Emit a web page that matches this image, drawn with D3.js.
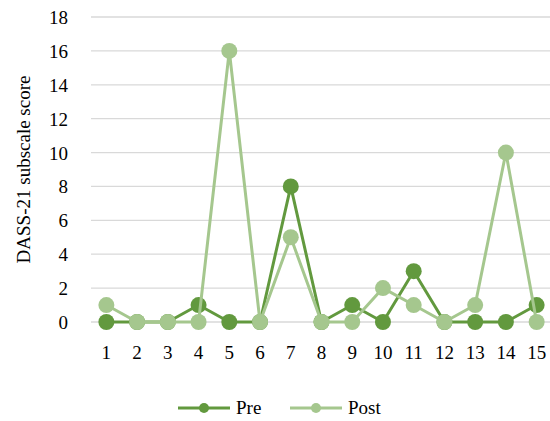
<!DOCTYPE html>
<html><head><meta charset="utf-8">
<script src="https://cdn.jsdelivr.net/npm/d3@7"></script>
<style>body{margin:0;background:#fff}svg{display:block}
html body svg#c text, html body svg#c g text{font-family:'Liberation Serif',serif !important;font-size:19px !important}</style>
</head><body>
<svg id="c" width="550" height="421"></svg>
<script>
const categories = ["1","2","3","4","5","6","7","8","9","10","11","12","13","14","15"];
const preValues  = [0,0,0,1,0,0,8,0,1,0,3,0,0,0,1];
const postValues = [1,0,0,0,16,0,5,0,0,2,1,0,1,10,0];
const yTicks = [0,2,4,6,8,10,12,14,16,18];
const colors = {Pre:"#62993e", Post:"#a5c78e"};
const FONT = "Liberation Serif";

const svg = d3.select("#c");
const m = {l:91, r:-2, t:17, b:99};
const W = 550, H = 421;
const x = d3.scaleBand().domain(categories).range([m.l, W - m.r]);
const y = d3.scaleLinear().domain([0,18]).range([H - m.b, m.t]);

svg.append("g").selectAll("line").data(yTicks).join("line")
  .attr("x1", m.l).attr("x2", W - m.r)
  .attr("y1", d=>y(d)).attr("y2", d=>y(d))
  .attr("stroke", "#d9d9d9").attr("stroke-width", 1.3);

const ya = svg.append("g").attr("transform", `translate(${m.l - 23},0)`)
  .call(d3.axisLeft(y).tickValues(yTicks).tickSize(0).tickPadding(0));
ya.select(".domain").remove();
ya.attr("font-family", FONT).attr("font-size", 19);
ya.selectAll("text").attr("fill", "#000").attr("dy","0.34em");

const xa = svg.append("g").attr("transform", `translate(0,${y(0)+23})`)
  .call(d3.axisBottom(x).tickSize(0).tickPadding(0));
xa.select(".domain").remove();
xa.attr("font-family", FONT).attr("font-size", 19);
xa.selectAll("text").attr("fill", "#000").attr("dy","0.71em");

svg.append("text").attr("transform", `translate(30,${(y(0)+y(18))/2}) rotate(-90)`)
  .attr("text-anchor","middle").attr("font-family", FONT).attr("font-size", 19)
  .text("DASS-21 subscale score");

const cx = d => x(d) + x.bandwidth()/2;
const series = [{name:"Pre", vals:preValues},{name:"Post", vals:postValues}];
const line = d3.line().x((d,i)=>cx(categories[i])).y(d=>y(d));
series.forEach(s=>{
  const g = svg.append("g");
  g.append("path").attr("d", line(s.vals)).attr("fill","none")
    .attr("stroke", colors[s.name]).attr("stroke-width", 3).attr("stroke-linejoin","round");
  g.selectAll("circle").data(s.vals).join("circle")
    .attr("cx",(d,i)=>cx(categories[i])).attr("cy", d=>y(d)).attr("r", 8)
    .attr("fill", colors[s.name]);
});

const lg = svg.append("g");
const legendItems = [{name:"Pre", x:178},{name:"Post", x:290}];
legendItems.forEach(it=>{
  lg.append("line").attr("x1", it.x).attr("x2", it.x+52).attr("y1", 408).attr("y2", 408)
    .attr("stroke", colors[it.name]).attr("stroke-width", 3);
  lg.append("circle").attr("cx", it.x+26).attr("cy", 408).attr("r", 5).attr("fill", colors[it.name]);
  lg.append("text").attr("x", it.x+58).attr("y", 408).attr("dy","0.34em")
    .attr("font-family", FONT).attr("font-size", 19).text(it.name);
});
</script>
</body></html>
